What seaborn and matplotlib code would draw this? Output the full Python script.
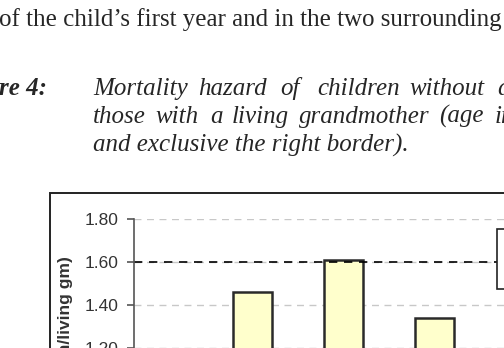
import matplotlib
matplotlib.use("Agg")
import matplotlib.pyplot as plt
import seaborn as sns
from matplotlib.patches import Rectangle
from matplotlib.lines import Line2D

age_groups = ["[0.5,1)", "[1,2)", "[2,5)"]
hazard_ratio = [1.46, 1.61, 1.34]
reference_level = 1.60
y_ticks = [1.20, 1.40, 1.60, 1.80]
tick_labels = ["1.20", "1.40", "1.60", "1.80"]

body_line = "of the child\u2019s first year and in the two surrounding years"
fig_label = "Figure 4:"
caption_1 = ["Mortality", "hazard", "of", "children", "without", "a", "living"]
caption_2 = ["those", "with", "a", "living", "grandmother", "(age", "in", "years,"]
caption_3 = "and exclusive the right border)."

# left edge (px) of each word in the justified caption lines
caption_1_x = [93, 198, 280, 317, 409, 497, 520]
caption_2_x = [93, 155, 210, 232, 299, 439, 495, 530]

sns.set_style("white")
W, H = 504, 348
fig = plt.figure(figsize=(W / 100, H / 100), dpi=100)

# page text around the figure
serif = "Liberation Serif"
fs = 18
fig.text(-1 / W, 1 - 26 / H, body_line, family=serif, fontsize=fs, va="baseline")
fig.text(47 / W, 1 - 95 / H, fig_label, family=serif, fontsize=fs,
         style="italic", weight="bold", va="baseline", ha="right")
for words, xs, base in [(caption_1, caption_1_x, 95), (caption_2, caption_2_x, 123)]:
    for w, x in zip(words, xs):
        fig.text(x / W, 1 - base / H, w, family=serif, fontsize=fs,
                 style="italic", va="baseline")
fig.text(93 / W, 1 - 152 / H, caption_3, family=serif, fontsize=fs,
         style="italic", va="baseline")

# chart area border
fig.add_artist(Rectangle((50 / W, -0.2), 1.2, 0.2 + (H - 193) / H,
                         transform=fig.transFigure, fill=False,
                         edgecolor="#222222", lw=1.4))

# plot area: 1.80 at y=219px, 215 px per unit
ax = fig.add_axes([134 / W, (H - 391) / H, (525.5 - 134) / W, 172 / H])
sns.barplot(x=age_groups, y=hazard_ratio, ax=ax, color="#FFFFCC",
            edgecolor="#2a2a2a", linewidth=1.8, width=0.42, saturation=1)
ax.axhline(reference_level, color="black", lw=1.2, ls=(0, (5, 4)), zorder=1)
ax.set_ylim(1.0, 1.8)
ax.set_xlim(-1.302, 3.0)
ax.set_yticks(y_ticks)
ax.set_yticklabels(tick_labels, family="Liberation Sans", fontsize=12.5, color="#333333")
ax.yaxis.grid(True, ls=(0, (5, 4)), color="#c8c8c8", lw=1)
ax.set_axisbelow(True)
ax.tick_params(axis="y", left=True, length=5, width=1.2, color="#555555", pad=6)
ax.tick_params(axis="x", bottom=False, labelbottom=False)
for s in ["top", "right", "bottom"]:
    ax.spines[s].set_visible(False)
ax.spines["left"].set_color("#555555")
ax.spines["left"].set_linewidth(1.2)
ax.set_xlabel("")
ax.set_ylabel("")

fig.text(66 / W, 1 - 256 / H, "Hazard ratio (no gm/living gm)", rotation=90,
         family="Liberation Sans", weight="bold", fontsize=12.5, color="#333333",
         ha="center", va="top")

handles = [Rectangle((0, 0), 1, 1, facecolor="#FFFFCC", edgecolor="#333333"),
           Line2D([], [], color="black", ls=(0, (5, 4)))]
leg = fig.legend(handles, ["hazard ratio", "mean"], loc="upper left",
                 bbox_to_anchor=(497 / W, 1 - 229 / H), frameon=True,
                 fancybox=False, framealpha=1, edgecolor="#222222",
                 borderpad=0.9, borderaxespad=0, fontsize=10)
leg.get_frame().set_linewidth(1.2)

fig.savefig("out.png", dpi=100)
